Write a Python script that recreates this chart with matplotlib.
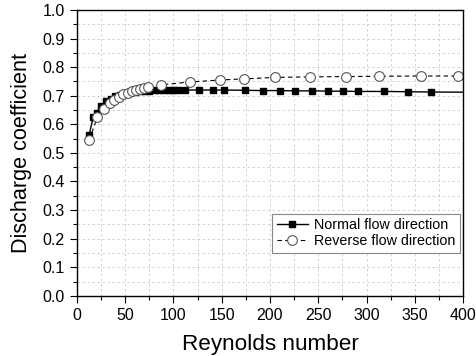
import matplotlib
matplotlib.use('Agg')
import matplotlib.pyplot as plt
from matplotlib.ticker import MultipleLocator

plt.rcParams['font.family'] = ['Liberation Sans', 'DejaVu Sans']

# dados

re_normal = [12.8, 17, 20.4, 25, 30, 35, 40, 45, 50, 55, 60, 65, 70, 75, 80, 85,
             90, 95, 100, 105, 112, 127, 141, 152, 174, 193, 210, 226, 244, 260,
             276, 291, 318, 343, 366.5, 420]
cd_normal = [0.563, 0.625, 0.640, 0.665, 0.680, 0.690, 0.698, 0.704, 0.708, 0.712,
             0.714, 0.716, 0.717, 0.718, 0.719, 0.719, 0.720, 0.720, 0.720, 0.720,
             0.720, 0.720, 0.720, 0.720, 0.719, 0.718, 0.718, 0.717, 0.717, 0.716,
             0.716, 0.715, 0.715, 0.714, 0.713, 0.712]

re_reverse = [12.8, 21.4, 28.3, 34.2, 38.7, 43.9, 48, 52.5, 56.7, 61.1, 65.3, 69.7,
              73.9, 86.7, 117, 148, 173.4, 205, 241.5, 279, 313, 356, 395]
cd_reverse = [0.545, 0.625, 0.653, 0.674, 0.685, 0.697, 0.705, 0.711, 0.717, 0.720,
              0.724, 0.728, 0.732, 0.738, 0.748, 0.755, 0.759, 0.764, 0.766, 0.767,
              0.768, 0.769, 0.769]

fig = plt.figure(figsize=(4.77, 3.56), dpi=100)
ax = fig.add_axes([0.161, 0.169, 0.81, 0.803])

ax.plot(re_normal, cd_normal, color='black', lw=1, marker='s', ms=5,
        mfc='black', mec='black', label='Normal flow direction')
ax.plot(re_reverse, cd_reverse, color='black', lw=0.8, ls=(0, (4, 3)), marker='o',
        ms=7, mfc='white', mec='#555555', mew=0.8, label='Reverse flow direction')

ax.set_xlim(0, 400)
ax.set_ylim(0, 1.0)
ax.xaxis.set_major_locator(MultipleLocator(50))
ax.xaxis.set_minor_locator(MultipleLocator(25))
ax.yaxis.set_major_locator(MultipleLocator(0.1))
ax.yaxis.set_minor_locator(MultipleLocator(0.05))
ax.yaxis.set_major_formatter(matplotlib.ticker.FormatStrFormatter('%.1f'))

ax.grid(which='both', color='#cccccc', ls=(0, (3, 3)), lw=0.6)
ax.set_axisbelow(True)
ax.tick_params(which='both', direction='out', labelsize=11.5, width=0.8)
ax.tick_params(which='major', length=5)
ax.tick_params(which='minor', length=3)
for s in ax.spines.values():
    s.set_linewidth(1)

ax.set_xlabel('Reynolds number', fontsize=16.2, labelpad=8)
ax.set_ylabel('Discharge coefficient', fontsize=15.6, labelpad=8)

leg = ax.legend(loc='lower right', bbox_to_anchor=(0.998, 0.141), fontsize=10.3,
                frameon=True, fancybox=False, framealpha=1, edgecolor='#888888',
                handlelength=2.2, borderpad=0.3, labelspacing=0.15, handletextpad=0.4,
                borderaxespad=0.2)
leg.get_frame().set_linewidth(0.8)

fig.savefig('out.png', dpi=100)
